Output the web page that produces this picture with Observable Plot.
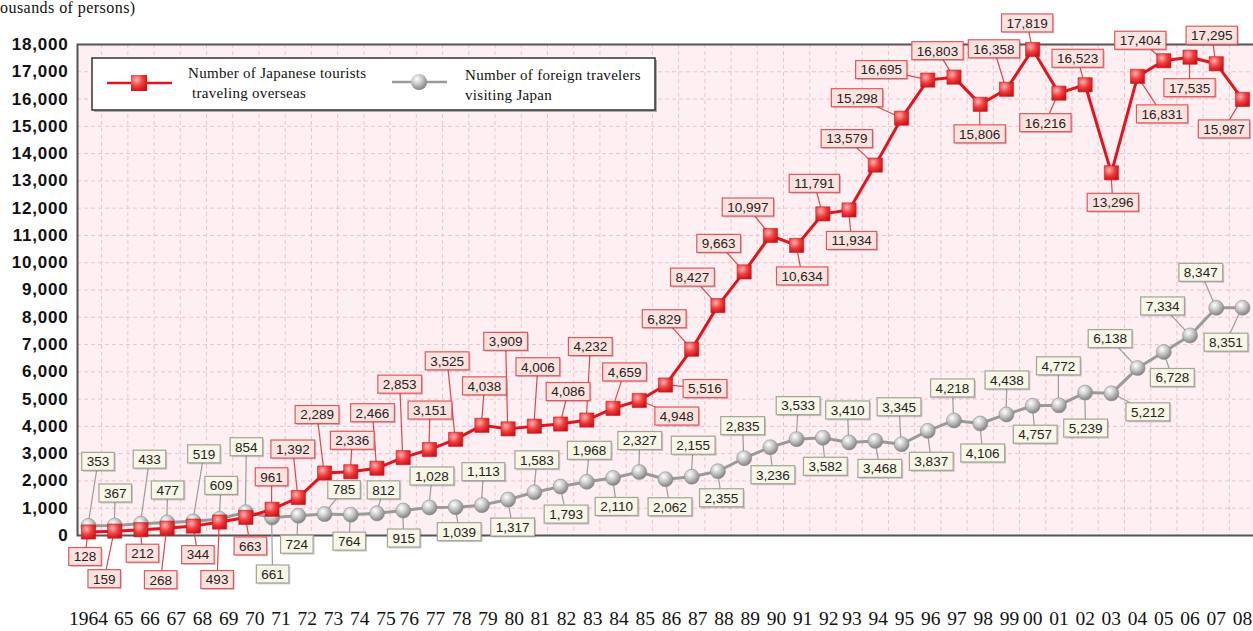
<!DOCTYPE html>
<html><head><meta charset="utf-8">
<script src="https://cdn.jsdelivr.net/npm/d3@7"></script>
<script src="https://cdn.jsdelivr.net/npm/@observablehq/plot@0.6"></script>
<style>
body{margin:0;background:#fff;}
#wrap{position:relative;width:1253px;height:631px;overflow:hidden;}
#title{position:absolute;left:0;top:0;font:16px/16px "Liberation Serif",serif;letter-spacing:0.45px;color:#111;z-index:2;}
#legend{position:absolute;left:90px;top:56px;z-index:2;}
</style></head><body>
<div id="wrap"><div id="title">ousands of persons)</div></div>
<script>
const years = [1964,1965,1966,1967,1968,1969,1970,1971,1972,1973,1974,1975,1976,1977,1978,1979,1980,1981,1982,1983,1984,1985,1986,1987,1988,1989,1990,1991,1992,1993,1994,1995,1996,1997,1998,1999,2000,2001,2002,2003,2004,2005,2006,2007,2008];
const yearLabels = ["1964","65","66","67","68","69","70","71","72","73","74","75","76","77","78","79","80","81","82","83","84","85","86","87","88","89","90","91","92","93","94","95","96","97","98","99","00","01","02","03","04","05","06","07","08"];
const japaneseOverseas = [128,159,212,268,344,493,663,961,1392,2289,2336,2466,2853,3151,3525,4038,3909,4006,4086,4232,4659,4948,5516,6829,8427,9663,10997,10634,11791,11934,13579,15298,16695,16803,15806,16358,17819,16216,16523,13296,16831,17404,17535,17295,15987];
const foreignVisitors = [353,367,433,477,519,609,854,661,724,785,764,812,915,1028,1039,1113,1317,1583,1793,1968,2110,2327,2062,2155,2355,2835,3236,3533,3582,3410,3468,3345,3837,4218,4106,4438,4757,4772,5239,5212,6138,6728,7334,8347,8351];
const yTicks = [0,1000,2000,3000,4000,5000,6000,7000,8000,9000,10000,11000,12000,13000,14000,15000,16000,17000,18000];
const seriesNames = ["Number of Japanese tourists", "traveling overseas", "Number of foreign travelers", "visiting Japan"];

// label box offsets (pixels from the marker), layout only
const jpLabelOffsets = [[-3,25],[-10,48],[2,24],[-6,52],[5,29],[-2,58],[5,29],[0,-32],[-5,-48],[-7,-58],[2,-31],[-4,-55],[-3,-73],[1,-39],[-8,-78],[3,-39],[-2,-87],[4,-59],[8,-32],[4,-73],[12,-36],[38,16],[40,4],[-27,-30],[-25,-28],[-25,-28],[-22,-28],[6,31],[-8,-30],[3,31],[-28,-26],[-44,-20],[-46,-10],[-16,-26],[0,30],[-12,-40],[-5,-26],[-13,30],[-7,-26],[2,30],[25,38],[-23,-20],[0,31],[-4,-28],[-18,30]];
const frLabelOffsets = [[10,-64],[1,-32],[9,-64],[1,-32],[11,-67],[2,-33],[1,-65],[1,57],[-1,29],[20,-24],[-1,27],[7,-23],[1,28],[3,-31],[4,25],[2,-33],[5,28],[3,-32],[6,28],[3,-31],[4,29],[1,-31],[5,28],[2,-31],[4,27],[-1,-32],[3,28],[2,-33],[3,29],[-1,-32],[5,28],[-2,-37],[4,31],[-1,-32],[3,30],[1,-34],[3,29],[0,-39],[1,36],[37,19],[-27,-29],[9,26],[-27,-29],[-15,-35],[-16,35]];

const jp = years.map((y,i)=>({year:y, value:japaneseOverseas[i]}));
const fr = years.map((y,i)=>({year:y, value:foreignVisitors[i]}));
const gridX = years.slice(0,-1).map(y=>y+0.5);
const fmt = d3.format(",");
const xLabel = d=>yearLabels[years.indexOf(d)];
// the year row is typeset as one line of text in the original; nudge groups to follow it
const xAxisGroups = [[0,1,0],[1,12,9],[12,29,6],[29,36,3],[36,45,0]];
const xAxisStyle = {tickSize:0, tickPadding:76, tickFormat:xLabel, fontSize:19.5, fontFamily:"Liberation Serif, serif", label:null};

const plot = Plot.plot({
  width:1253, height:631,
  marginTop:44, marginBottom:96, marginLeft:77, marginRight:-4,
  x:{domain:[1964,2008], insetLeft:11, insetRight:15, label:null},
  y:{domain:[0,18000], label:null},
  style:{background:"transparent", overflow:"visible"},
  marks:[
    Plot.frame({fill:"#fdeff2", stroke:null}),
    Plot.ruleY(yTicks.slice(1,-1), {stroke:"#efc3cc", strokeWidth:1, strokeDasharray:"4,3"}),
    Plot.ruleX(gridX, {stroke:"#efc3cc", strokeWidth:1, strokeDasharray:"4,3"}),
    Plot.frame({stroke:"#555", strokeWidth:2, fill:null}),
    Plot.axisY(yTicks, {tickSize:0, tickPadding:9, tickFormat:fmt, fontSize:17, fontWeight:"bold", fontFamily:"Liberation Sans, Arial, sans-serif", label:null}),
    ...xAxisGroups.map(([a,b,dx]) => Plot.axisX(years.slice(a,b), {...xAxisStyle, dx})),
    Plot.lineY(fr, {x:"year", y:"value", stroke:"#9a9a9a", strokeWidth:3}),
    Plot.dot(fr, {x:"year", y:"value", r:7.5, fill:"url(#gsphere)", stroke:"#8d8d8d", strokeWidth:0.6}),
    Plot.lineY(jp, {x:"year", y:"value", stroke:"#e3141d", strokeWidth:3}),
    Plot.dot(jp, {x:"year", y:"value", symbol:"square", r:8, fill:"url(#rsquare)", stroke:"#cc1a20", strokeWidth:0.6})
  ]
});
document.getElementById("wrap").append(plot);
const svg = d3.select(plot);
svg.style("position","absolute").style("left","0").style("top","0");
svg.selectAll("g[aria-label='y-axis tick label'] text").attr("letter-spacing","0.8").attr("fill","#111");
svg.selectAll("g[aria-label='x-axis tick label'] text").attr("fill","#111");

// gradients
const defs = svg.append("defs");
const rg = defs.append("radialGradient").attr("id","rsquare").attr("cx","35%").attr("cy","30%").attr("r","75%");
rg.append("stop").attr("offset","0%").attr("stop-color","#ffb0ae");
rg.append("stop").attr("offset","55%").attr("stop-color","#f03a3a");
rg.append("stop").attr("offset","100%").attr("stop-color","#c8141a");
const gg = defs.append("radialGradient").attr("id","gsphere").attr("cx","38%").attr("cy","32%").attr("r","70%");
gg.append("stop").attr("offset","0%").attr("stop-color","#ffffff");
gg.append("stop").attr("offset","50%").attr("stop-color","#c4c4c4");
gg.append("stop").attr("offset","100%").attr("stop-color","#7f7f7f");

const xs = plot.scale("x"), ys = plot.scale("y");
const lineG = svg.select("g[aria-label=line]").node();
const leaders = d3.select(plot.insertBefore(document.createElementNS("http://www.w3.org/2000/svg","g"), lineG));
const boxes = svg.append("g").attr("class","boxes");

function addLabels(data, offsets, lineColor, boxFill, boxStroke) {
  data.forEach((d,i)=>{
    const px = xs.apply(d.year), py = ys.apply(d.value);
    const cx = px + offsets[i][0], cy = py + offsets[i][1];
    leaders.append("line").attr("x1",px).attr("y1",py).attr("x2",cx).attr("y2",cy)
      .attr("stroke",lineColor).attr("stroke-width",1.2);
    const g = boxes.append("g");
    const t = g.append("text").attr("x",cx).attr("y",cy).attr("text-anchor","middle")
      .attr("dy","0.36em").attr("font-family","Liberation Sans, Arial, sans-serif")
      .attr("font-size",13.5).attr("fill","#222").text(fmt(d.value));
    const w = t.node().getComputedTextLength() + 10, h = 18;
    g.insert("rect","text").attr("x",cx-w/2+1.5).attr("y",cy-h/2+1.5).attr("width",w).attr("height",h)
      .attr("fill","rgba(0,0,0,0.18)");
    g.insert("rect","text").attr("x",cx-w/2).attr("y",cy-h/2).attr("width",w).attr("height",h)
      .attr("fill",boxFill).attr("stroke",boxStroke).attr("stroke-width",1.2);
  });
}
addLabels(fr, frLabelOffsets, "#9c9c9c", "#f8f6e6", "#a3a39a");
addLabels(jp, jpLabelOffsets, "#e0464d", "#fde3e0", "#e0585e");

// legend
const lg = d3.select("#wrap").append("svg").attr("id","legend").attr("width",570).attr("height",60);
lg.append("rect").attr("x",4).attr("y",4).attr("width",563).attr("height",52).attr("fill","#aaa");
lg.append("rect").attr("x",2).attr("y",2).attr("width",563).attr("height",52).attr("fill","#fff").attr("stroke","#333").attr("stroke-width",1.5);
lg.append("line").attr("x1",17).attr("x2",82).attr("y1",27).attr("y2",27).attr("stroke","#e3141d").attr("stroke-width",2.5);
lg.append("rect").attr("x",41).attr("y",19).attr("width",16).attr("height",16).attr("fill","url(#rsquare)");
lg.append("line").attr("x1",302).attr("x2",357).attr("y1",26).attr("y2",26).attr("stroke","#9a9a9a").attr("stroke-width",2.5);
lg.append("circle").attr("cx",329).attr("cy",26).attr("r",8).attr("fill","url(#gsphere)");
const tf = {"font-family":"Liberation Serif, serif","font-size":15,"fill":"#111","letter-spacing":0.3};
function ltext(x,y,s){const t=lg.append("text").attr("x",x).attr("y",y).text(s); for(const k in tf) t.attr(k,tf[k]);}
ltext(98,22,seriesNames[0]); ltext(102,42,seriesNames[1]);
ltext(375,24,seriesNames[2]); ltext(375,44,seriesNames[3]);
</script>
</body></html>
